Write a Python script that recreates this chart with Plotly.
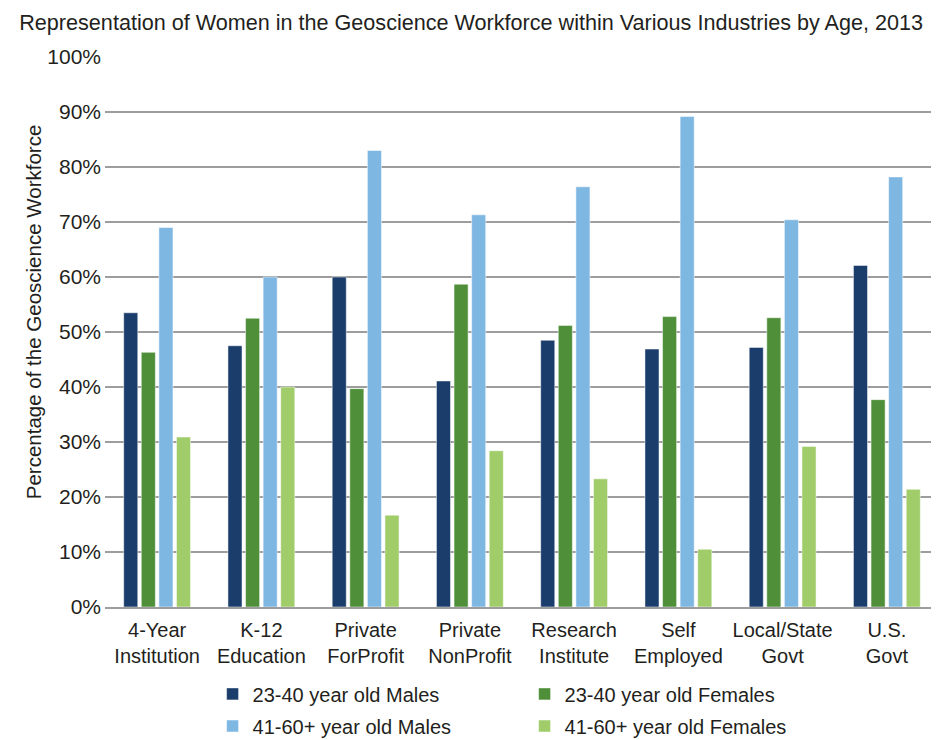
import plotly.graph_objects as go

categories = ["4-Year<br>Institution", "K-12<br>Education", "Private<br>ForProfit", "Private<br>NonProfit",
              "Research<br>Institute", "Self<br>Employed", "Local/State<br>Govt", "U.S.<br>Govt"]
males_23_40 = [53.5, 47.5, 60.0, 41.1, 48.5, 46.9, 47.2, 62.1]
females_23_40 = [46.3, 52.5, 39.7, 58.7, 51.2, 52.8, 52.6, 37.7]
males_41_60 = [69.0, 60.0, 83.0, 71.3, 76.4, 89.2, 70.4, 78.2]
females_41_60 = [30.9, 40.0, 16.7, 28.4, 23.3, 10.5, 29.2, 21.4]
series_names = ["23-40 year old Males", "23-40 year old Females", "41-60+ year old Males", "41-60+ year old Females"]
colors = ["#1B3D6B", "#4F8F3A", "#7FB7E3", "#A0CC6A"]
legend_ids = ["legend", "legend", "legend2", "legend2"]

FONT = "Liberation Sans, Arial, sans-serif"
TXT = "#231F20"

fig = go.Figure()
for name, vals, c, lg in zip(series_names, [males_23_40, females_23_40, males_41_60, females_41_60], colors, legend_ids):
    fig.add_trace(go.Bar(x=categories, y=[v / 100 for v in vals], name=name, legend=lg,
                         marker=dict(color=c, line=dict(color="white", width=0.5))))

leg_common = dict(orientation="h", xanchor="left", yanchor="middle", entrywidth=267,
                  font=dict(family=FONT, size=20, color=TXT), itemwidth=30,
                  bgcolor="rgba(0,0,0,0)", borderwidth=0)

fig.update_layout(
    width=931, height=732,
    paper_bgcolor="white", plot_bgcolor="white",
    margin=dict(l=97, r=0, t=49, b=133, autoexpand=False),
    font=dict(family=FONT, size=20, color=TXT),
    title=dict(text="Representation of Women in the Geoscience Workforce within Various Industries by Age, 2013",
               x=0.4975, xanchor="center", y=1 - 14 / 732, yanchor="middle",
               font=dict(family=FONT, size=21.6, color=TXT)),
    barmode="group", bargap=0.325, bargroupgap=0.2,
    legend=dict(x=0.129, y=-0.158, **leg_common),
    legend2=dict(x=0.129, y=-0.2164, **leg_common),
    showlegend=True,
    annotations=[dict(text="Percentage of the Geoscience Workforce", textangle=-90,
                      xref="paper", yref="paper", x=-0.0863, y=0.536,
                      xanchor="center", yanchor="middle", showarrow=False,
                      font=dict(family=FONT, size=20.5, color=TXT))],
)
fig.update_yaxes(range=[0, 1.0], dtick=0.1, tickformat=".0%", showgrid=True,
                 gridcolor="#9D9D9D", gridwidth=1.6, zeroline=False,
                 showline=False, ticks="", ticklabelstandoff=3,
                 tickfont=dict(size=21))
fig.update_xaxes(showline=True, linecolor="#9D9D9D", linewidth=1.6, ticks="",
                 ticklabelstandoff=4, tickfont=dict(size=20))

fig.write_html("out.html")
